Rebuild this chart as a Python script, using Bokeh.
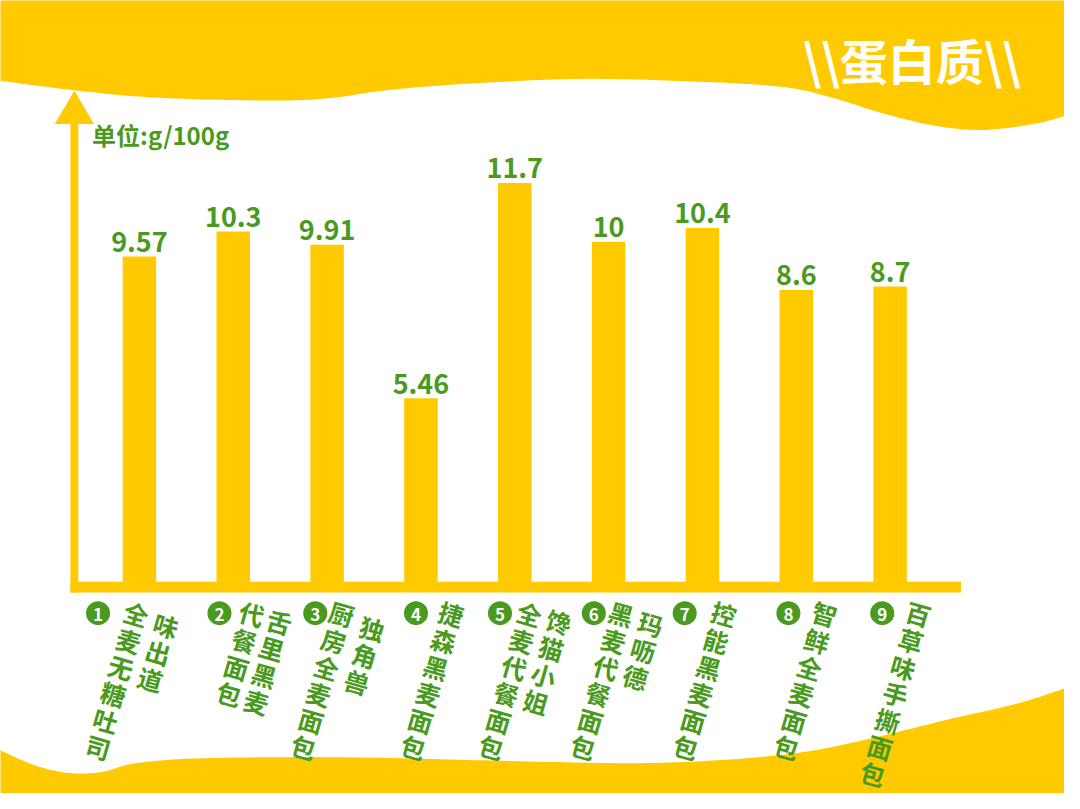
import numpy as np
from bokeh.plotting import figure
from bokeh.models import Range1d
from bokeh.core.properties import value
from bokeh.embed import file_html
from bokeh.resources import INLINE

# ---------------- data ----------------
names = ["味出道全麦无糖吐司", "舌里黑麦代餐面包", "独角兽厨房全麦面包", "捷森黑麦面包",
         "馋猫小姐全麦代餐面包", "玛呖德黑麦代餐面包", "控能黑麦面包", "智鲜全麦面包", "百草味手撕面包"]
protein = [9.57, 10.3, 9.91, 5.46, 11.7, 10, 10.4, 8.6, 8.7]
numbers = ["1", "2", "3", "4", "5", "6", "7", "8", "9"]
unit_label = "单位:g/100g"
title = "\\\\蛋白质\\\\"

# ---------------- layout (pixels of the 1080x809 reference) ----------------
W, H = 1064, 793
RW, RH = 1080, 809
STEP = 95.25          # px between bar centres
X0 = 141              # px of first bar centre
BASE = 598            # px of value 0
K = 35.19             # px per g
LABEL_GAP = 15        # px from bar top to value-label anchor
# label layout (px offsets relative to bar centre)
split = [3, 4, 3, 0, 4, 3, 0, 0, 0]          # chars in right-hand column
circle_dx = [-42, -14, -12, -5, -15, -15, -18, -8, -8]
main_dx = [-3, 19, 15, 31, 15, 13, 22, 29, 29]
right_dx = [27, 47, 46, 0, 45, 43, 0, 0, 0]
right_y = [637, 633, 640, 0, 633, 635, 0, 0, 0]

YELLOW = "#FFCB00"
GREEN = "#4A9A20"
FONT = value("Noto Sans CJK SC")

p = figure(width=W, height=H, output_backend="svg", toolbar_location=None,
           x_axis_location=None, y_axis_location=None, min_border=0,
           x_range=Range1d((0 - X0) / STEP, (RW - X0) / STEP),
           y_range=Range1d((BASE - RH) / K, BASE / K))
p.outline_line_color = None
p.background_fill_color = "white"
p.border_fill_color = "white"
p.grid.visible = False
p.extra_x_ranges = {"px": Range1d(0, RW)}
p.extra_y_ranges = {"py": Range1d(RH, 0)}


def smooth(pts, n=16):
    P = np.array(pts, float)
    P = np.vstack([P[0], P, P[-1]])
    out = []
    for i in range(1, len(P) - 2):
        p0, p1, p2, p3 = P[i - 1], P[i], P[i + 1], P[i + 2]
        t = np.linspace(0, 1, n, endpoint=False)[:, None]
        out.append(0.5 * (2 * p1 + (-p0 + p2) * t + (2 * p0 - 5 * p1 + 4 * p2 - p3) * t ** 2
                          + (-p0 + 3 * p1 - 3 * p2 + p3) * t ** 3))
    out.append(P[-2][None, :])
    return np.vstack(out)


top_edge = smooth([(-5, 81), (0, 82), (70, 91), (140, 98), (210, 101), (290, 102), (340, 99),
                   (380, 93), (430, 88), (490, 84), (585, 80), (689, 82), (792, 88), (847, 100),
                   (895, 115), (950, 128), (999, 132), (1054, 125), (1085, 116)])
p.patch(list(top_edge[:, 0]) + [1085, -5], list(top_edge[:, 1]) + [-5, -5],
        color=YELLOW, line_color=None, x_range_name="px", y_range_name="py")

bot_edge = smooth([(-5, 763), (0, 765), (34, 780), (69, 788), (103, 787), (138, 778), (207, 773),
                   (344, 772), (482, 775), (620, 778), (689, 777), (758, 773), (826, 765),
                   (895, 750), (964, 733), (1033, 717), (1085, 700)])
p.patch(list(bot_edge[:, 0]) + [1085, -5], list(bot_edge[:, 1]) + [815, 815],
        color=YELLOW, line_color=None, x_range_name="px", y_range_name="py")

# bars
idx = list(range(len(protein)))
p.vbar(x=idx, top=protein, bottom=0, width=34 / STEP, color=YELLOW, line_color=None)

# axes (decorative)
p.quad(left=[71], right=[975], bottom=[593], top=[604], color=YELLOW, line_color=None,
       x_range_name="px", y_range_name="py")
p.quad(left=[71], right=[79], bottom=[604], top=[118], color=YELLOW, line_color=None,
       x_range_name="px", y_range_name="py")
p.patch([75, 55, 95], [92, 126, 126], color=YELLOW, line_color=None,
        x_range_name="px", y_range_name="py")

# value labels
p.text(x=idx, y=[v + LABEL_GAP / K for v in protein], text=[f"{v:g}" for v in protein],
       text_font=FONT, text_font_style="bold", text_font_size="27px", text_color=GREEN,
       text_align="center", text_baseline="alphabetic")

# unit label & title
p.text(x=[93], y=[137], text=[unit_label], text_font=FONT, text_font_style="bold",
       text_font_size="24px", text_color=GREEN, text_align="left", text_baseline="middle",
       x_range_name="px", y_range_name="py")
p.text(x=[925], y=[60], text=[title], text_font=FONT, text_font_style="bold",
       text_font_size="48px", text_color="white", text_align="center", text_baseline="middle",
       x_range_name="px", y_range_name="py")

# category labels
ANG = 16.0
s, c = np.sin(np.radians(ANG)), np.cos(np.radians(ANG))
HTOP = 18
cx = [i + circle_dx[i] / STEP for i in idx]
p.scatter(x=cx, y=[625] * len(idx), size=24, color=GREEN, line_color=None, y_range_name="py")
p.text(x=cx, y=[626] * len(idx), text=numbers, text_font=FONT, text_font_style="bold",
       text_font_size="17px", text_color="white", text_align="center", text_baseline="middle",
       y_range_name="py")

col_x, col_y, col_t = [], [], []
for i in idx:
    k = split[i]
    main = names[i][k:]
    col_x.append(i + (main_dx[i] + HTOP * s) / STEP)
    col_y.append(625 - HTOP * c)
    col_t.append("\n".join(main))
    if k:
        col_x.append(i + (right_dx[i] + HTOP * s) / STEP)
        col_y.append(right_y[i] - HTOP * c)
        col_t.append("\n".join(names[i][:k]))
p.text(x=col_x, y=col_y, text=col_t, text_font=FONT, text_font_style="bold",
       text_font_size="25px", text_color=GREEN, text_align="center", text_baseline="top",
       text_line_height=0.77, angle=-ANG, angle_units="deg", y_range_name="py")

open("out.html", "w").write(file_html(p, INLINE))
